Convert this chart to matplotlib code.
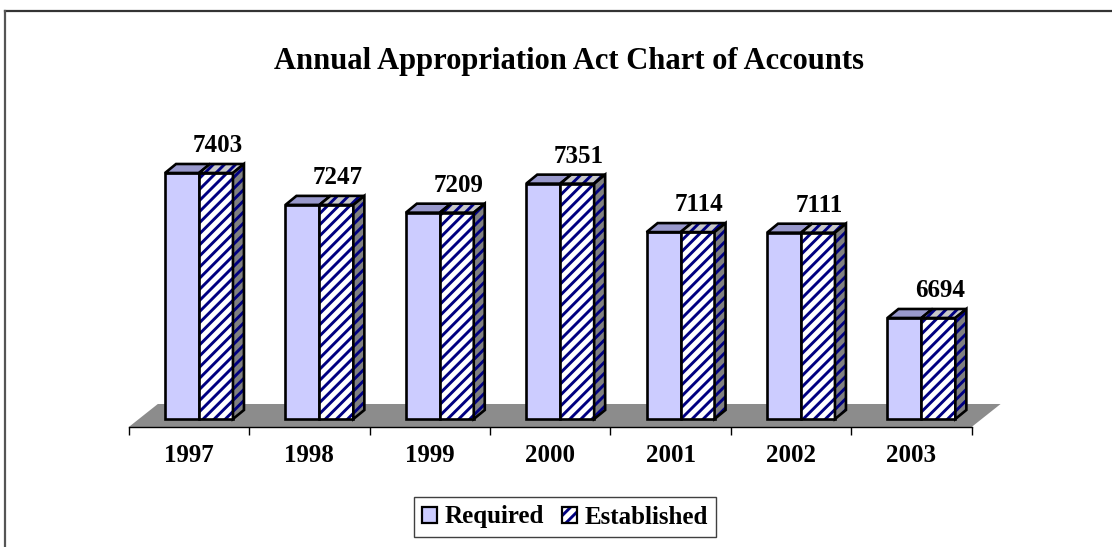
import matplotlib
matplotlib.use("Agg")
import matplotlib.pyplot as plt
from matplotlib.patches import Rectangle, Polygon, Patch
from matplotlib.lines import Line2D

plt.rcParams['font.family'] = ['Liberation Serif', 'DejaVu Serif']
plt.rcParams['font.weight'] = 'bold'
plt.rcParams['hatch.color'] = '#000080'
plt.rcParams['hatch.linewidth'] = 2.1

# ---- data ----
title = "Annual Appropriation Act Chart of Accounts"
years = ["1997", "1998", "1999", "2000", "2001", "2002", "2003"]
required = [7403, 7247, 7209, 7351, 7114, 7111, 6694]
established = [7403, 7247, 7209, 7351, 7114, 7111, 6694]
series_names = ["Required", "Established"]

# ---- style ----
W, H = 1112, 547
BASE, YMAX = 6200, 7600
BAR_W = 0.282
DX, DY = 0.0914, 44.0          # bar depth offset (data units)
FDX, FDY = 0.241, 112.5        # floor depth (data units)
REQ_FACE, REQ_TOP = '#CCCCFF', '#9999CC'
EST_FACE, EST_TOP, EST_SIDE = 'white', '#C8C8C8', '#808080'
FLOOR = '#8C8C8C'
EDGE_LW = 1.9
FS = 18

fig = plt.figure(figsize=(W / 100, H / 100), dpi=100)

# floor / category axis plane (slightly in front of the bar plane)
axf = fig.add_axes([128.8 / W, (H - 427) / H, 842.8 / W, 286.3 / H])
# bar plane
axb = fig.add_axes([138.8 / W, (H - 419) / H, 842.8 / W, 286.3 / H])
for a in (axf, axb):
    a.set_xlim(-0.5, len(years) - 0.5)
    a.set_ylim(BASE, YMAX)
    a.patch.set_alpha(0)

# floor
n = len(years)
axf.add_patch(Polygon([(-0.5, BASE), (n - 0.5, BASE), (n - 0.5 + FDX, BASE + FDY),
                       (-0.5 + FDX, BASE + FDY)], closed=True,
                      facecolor=FLOOR, edgecolor='none', clip_on=False, zorder=1))
for s in ['top', 'left', 'right']:
    axf.spines[s].set_visible(False)
axf.spines['bottom'].set_linewidth(1.0)
axf.set_yticks([])
axf.set_xticks([i - 0.5 for i in range(n + 1)])
axf.set_xticklabels([])
axf.set_xticks(range(n), minor=True)
axf.set_xticklabels(years, minor=True, fontsize=FS, fontweight='bold')
axf.tick_params(axis='x', which='major', direction='out', length=6, width=1.0)
axf.tick_params(axis='x', which='minor', length=0, pad=12)

axb.axis('off')


def box(ax, x0, v, face, top, side, hatch=None, z=3):
    kw = dict(clip_on=False, zorder=z)
    # front
    ax.add_patch(Rectangle((x0, BASE), BAR_W, v - BASE, facecolor=face,
                           edgecolor=None, hatch=hatch, linewidth=0, **kw))
    ax.add_patch(Rectangle((x0, BASE), BAR_W, v - BASE, facecolor='none',
                           edgecolor='black', linewidth=EDGE_LW, **kw))
    # top
    tp = [(x0, v), (x0 + BAR_W, v), (x0 + BAR_W + DX, v + DY), (x0 + DX, v + DY)]
    ax.add_patch(Polygon(tp, closed=True, facecolor=top, edgecolor=None,
                         hatch=hatch, linewidth=0, **kw))
    ax.add_patch(Polygon(tp, closed=True, facecolor='none', edgecolor='black',
                         linewidth=EDGE_LW, joinstyle='miter', **kw))
    if side is not None:
        sp = [(x0 + BAR_W, BASE), (x0 + BAR_W, v), (x0 + BAR_W + DX, v + DY),
              (x0 + BAR_W + DX, BASE + DY)]
        ax.add_patch(Polygon(sp, closed=True, facecolor=side, edgecolor=None,
                             hatch=hatch, linewidth=0, **kw))
        ax.add_patch(Polygon(sp, closed=True, facecolor='none', edgecolor='black',
                             linewidth=EDGE_LW, joinstyle='miter', **kw))


for i, (r, e) in enumerate(zip(required, established)):
    box(axb, i - BAR_W, r, REQ_FACE, REQ_TOP, None, z=3)
    box(axb, i, e, EST_FACE, EST_TOP, EST_SIDE, hatch='///', z=4)
    axb.annotate(f"{e}", xy=(i + BAR_W / 2, e), xytext=(1, 15),
                 textcoords='offset points', ha='center', va='baseline',
                 fontsize=FS, fontweight='bold', annotation_clip=False)

fig.text(569 / W, 1 - 61 / H, title, ha='center', va='center',
         fontsize=22, fontweight='bold')

# legend
h_req = Patch(facecolor=REQ_FACE, edgecolor='black', linewidth=1.6)
h_est_fill = Patch(facecolor='white', edgecolor=None, hatch='///', linewidth=0)
h_est_edge = Patch(facecolor='none', edgecolor='black', linewidth=1.6)
leg = fig.legend([h_req, (h_est_fill, h_est_edge)], series_names,
                 loc='center', bbox_to_anchor=(565 / W, 1 - 517 / H), ncol=2,
                 prop={'size': FS, 'weight': 'bold'}, handlelength=0.6,
                 handleheight=0.6, handletextpad=0.3, columnspacing=0.7,
                 borderpad=0.35, fancybox=False, framealpha=1)
leg.get_frame().set_edgecolor('#404040')
leg.get_frame().set_linewidth(1.0)

# outer frame (top and left edges)
fig.add_artist(Line2D([5 / W, 1.0], [1 - 11 / H, 1 - 11 / H], color='#333333',
                      linewidth=1.6, transform=fig.transFigure))
fig.add_artist(Line2D([5 / W, 5 / W], [0, 1 - 11 / H], color='#555555',
                      linewidth=1.6, transform=fig.transFigure))

fig.savefig("out.png", dpi=100)
